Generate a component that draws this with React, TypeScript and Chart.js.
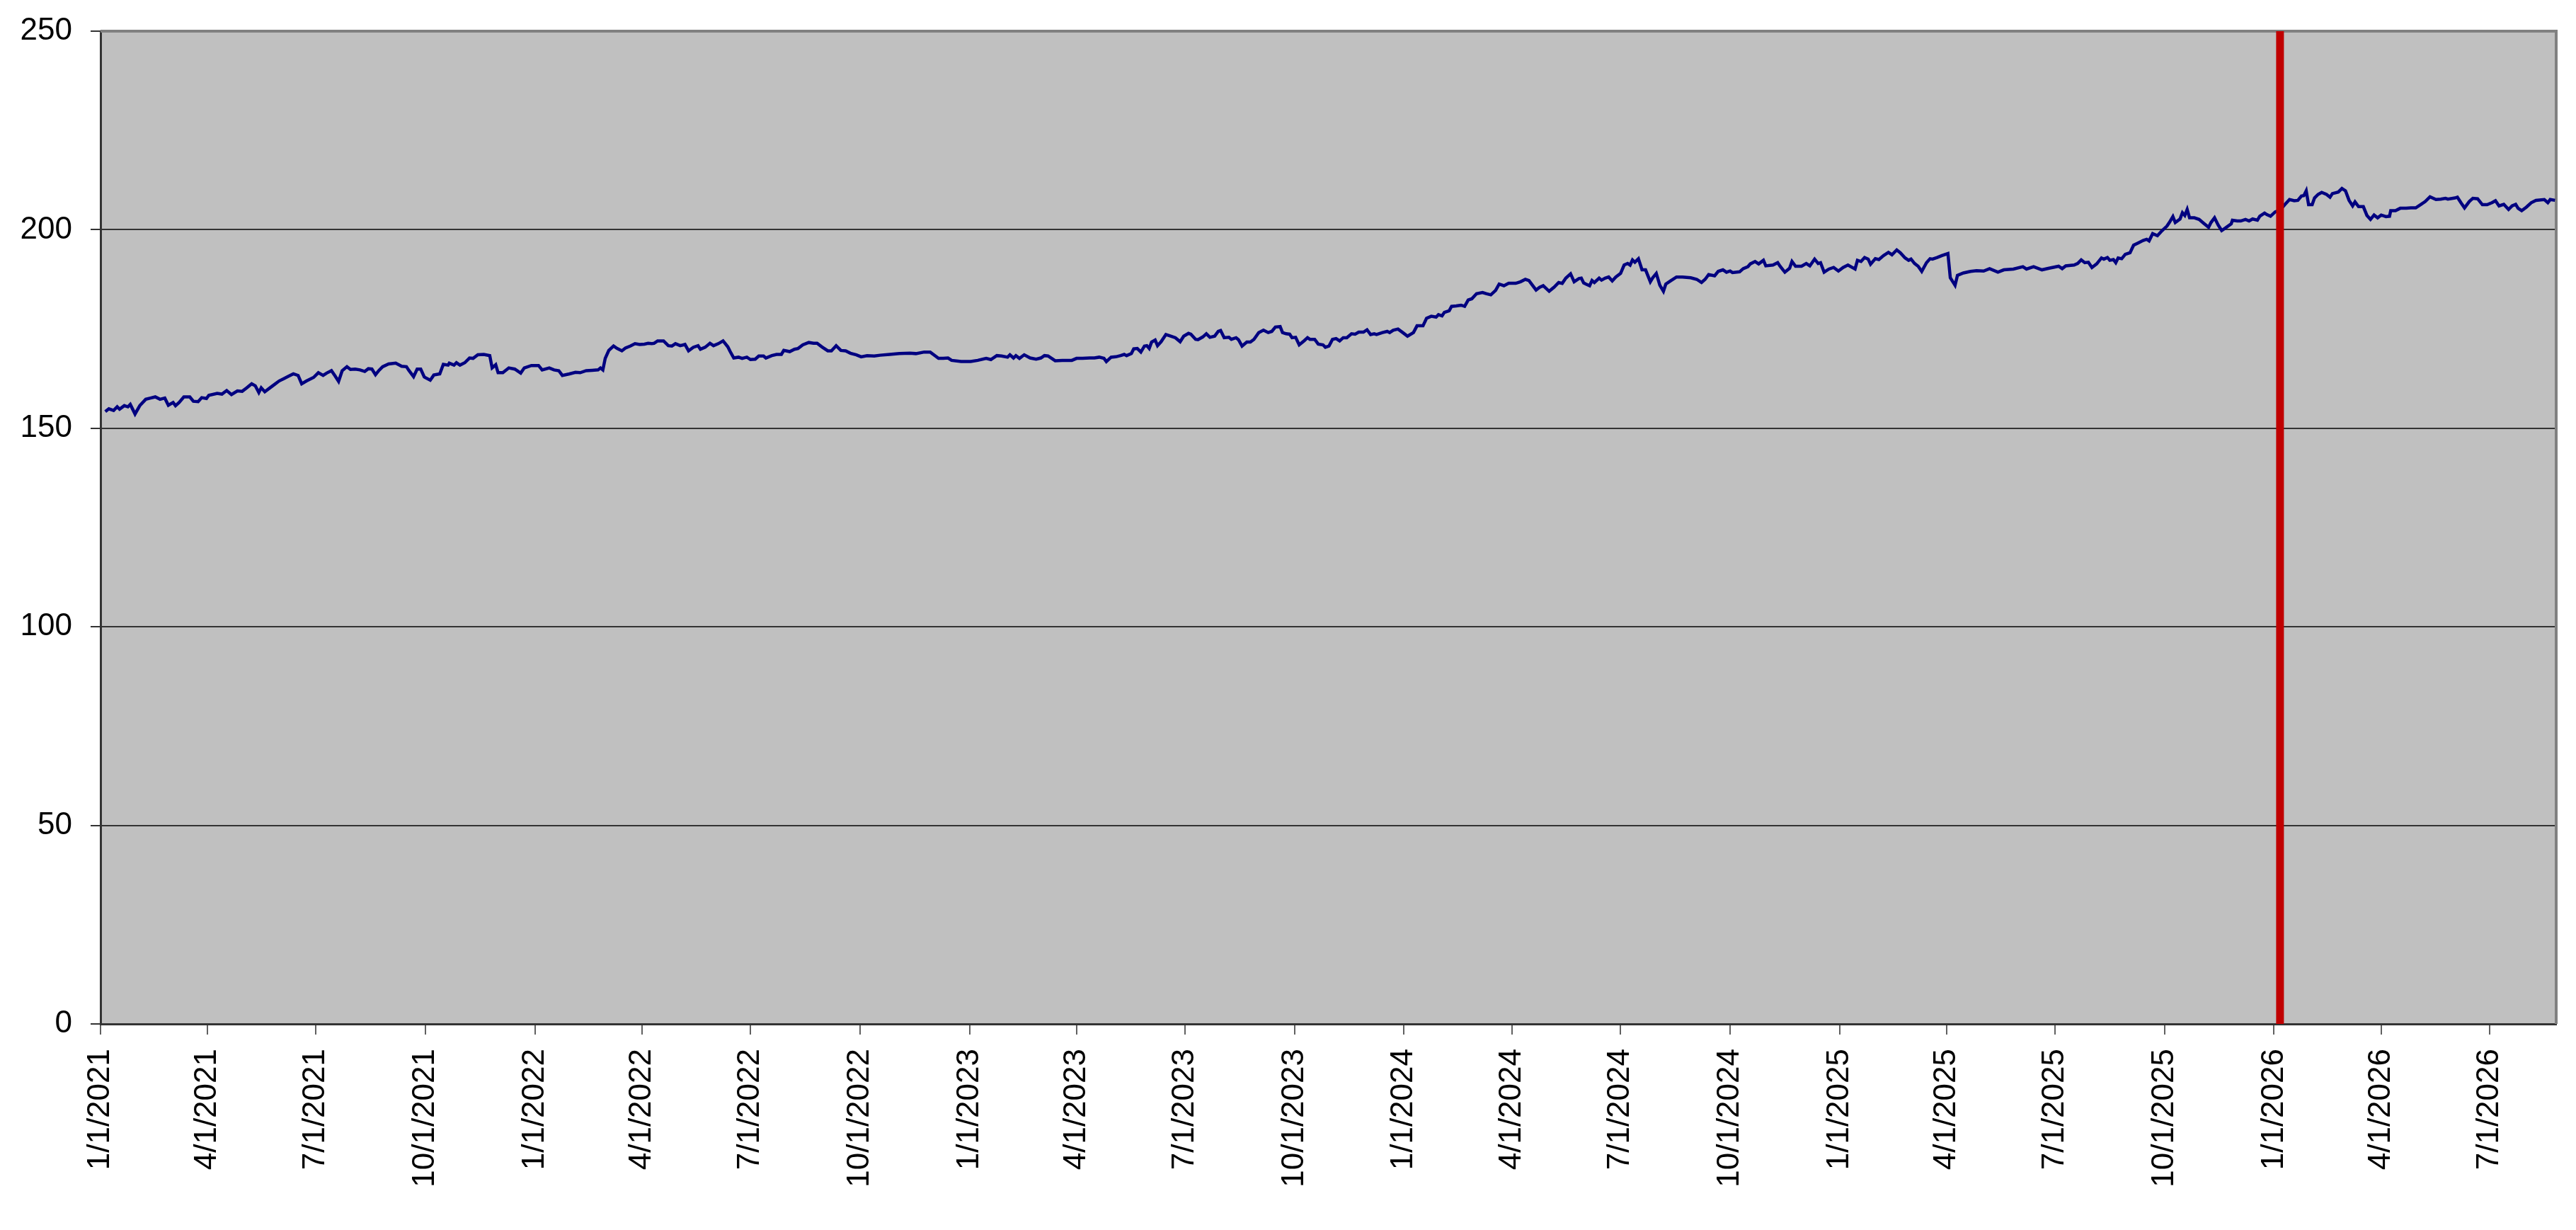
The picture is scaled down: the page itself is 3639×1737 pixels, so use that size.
import { useEffect, useRef } from 'react';
import { Chart, registerables } from 'chart.js';

Chart.register(...registerables);

const START = Date.UTC(2021, 0, 1);
const DAY_MS = 86400000;

// x positions: days elapsed since 1/1/2021 (trading days sampled off the chart)
const DAYS = [
  // 2021
  4, 7, 11, 14, 16, 20, 23, 25, 29, 33,
  38, 42, 46, 50, 54, 57, 61, 63, 66, 70,
  75, 78, 82, 85, 89, 91, 98, 102, 106, 110,
  115, 119, 123, 127, 130, 133, 135, 138, 142, 146,
  150, 154, 158, 162, 166, 169, 173, 179, 183, 187,
  190, 194, 197, 200, 203, 207, 210, 214, 218, 222,
  225, 228, 231, 234, 237, 242, 248, 253, 257, 259,
  263, 266, 269, 272, 277, 280, 285, 288, 292, 293,
  297, 299, 302, 306, 310, 313, 317, 322, 327, 329,
  332, 334, 338, 343, 348, 353, 356, 362, 368, 371,
  377, 381, 385, 388, 394, 399, 403, 408, 413,
  // 2022
  418, 420, 422, 424, 427, 431, 434, 438, 441, 445,
  449, 453, 457, 460, 463, 465, 468, 473, 477, 480,
  483, 487, 491, 494, 498, 502, 504, 508, 512, 515,
  519, 523, 527, 529, 532, 536, 539, 543, 546, 550,
  553, 557, 559, 564, 568, 572, 574, 579, 583, 586,
  590, 595, 599, 602, 606, 611, 614, 618, 622, 626,
  630, 635, 639, 644, 650, 655, 663, 671, 680, 685,
  692, 697, 700, 704, 708, 712, 715, 723, 731, 737,
  744, 748, 753, 757, 762, 764, 767, 769, 772, 776,
  781, 786, 790, 793, 796, 802, 808, 816, 820,
  // 2023 - 2024
  825, 831, 835, 839, 843, 845, 849, 853, 857, 860,
  862, 866, 868, 871, 874, 877, 879, 881, 883, 886,
  888, 891, 895, 899, 903, 907, 910, 914, 916, 920,
  922, 926, 929, 932, 936, 939, 941, 944, 948, 950,
  954, 956, 959, 963, 966, 969, 973, 977, 981, 984,
  987, 991, 993, 996, 999, 1001, 1004, 1007, 1011, 1014,
  1016, 1020, 1023, 1027, 1029, 1032, 1035, 1038, 1041, 1044,
  1047, 1051, 1054, 1057, 1061, 1064, 1067, 1070, 1072, 1077,
  1081, 1083, 1086, 1090, 1094, 1098, 1103, 1106, 1111, 1114,
  1118, 1122, 1124, 1127, 1129, 1133, 1135, 1139, 1143, 1146,
  1149, 1152, 1156, 1161, 1164, 1168, 1172, 1175, 1179, 1183,
  1189, 1193, 1197, 1200, 1203, 1206, 1209, 1212, 1217, 1221,
  1225, 1228, 1231, 1235, 1238,
  // 2024 - 2025
  1242, 1244, 1246, 1248, 1251, 1253, 1255, 1259, 1261, 1264,
  1267, 1270, 1273, 1277, 1280, 1283, 1285, 1287, 1289, 1292,
  1295, 1298, 1302, 1304, 1307, 1310, 1313, 1315, 1319, 1324,
  1329, 1336, 1341, 1345, 1348, 1351, 1356, 1359, 1363, 1366,
  1369, 1371, 1377, 1380, 1384, 1386, 1390, 1393, 1397, 1399,
  1405, 1409, 1411, 1415, 1419, 1421, 1424, 1429, 1433, 1436,
  1440, 1443, 1445, 1448, 1452, 1456, 1460, 1464, 1468, 1474,
  1476, 1479, 1482, 1485, 1487, 1491, 1494, 1498, 1502, 1505,
  1509, 1512, 1516, 1519, 1521, 1524, 1527, 1530, 1534, 1537,
  1539, 1543, 1547, 1552, 1554, 1558, 1560, 1565, 1571, 1576,
  1582, 1587, 1594, 1599, 1607, 1615, 1618, 1624, 1631, 1637,
  1645, 1648, 1651,
  // 2025 - 2026
  1658, 1661, 1664, 1667, 1670, 1673, 1677, 1681, 1683, 1686,
  1688, 1691, 1693, 1695, 1698, 1701, 1705, 1708, 1712, 1716,
  1719, 1721, 1724, 1728, 1732, 1736, 1738, 1741, 1743, 1747,
  1749, 1751, 1753, 1755, 1759, 1763, 1767, 1771, 1773, 1776,
  1779, 1782, 1785, 1790, 1791, 1795, 1798, 1802, 1805, 1808,
  1812, 1814, 1818, 1820, 1823, 1827, 1831, 1835, 1839, 1843,
  1846, 1849, 1851, 1853, 1855, 1858, 1860, 1863, 1866, 1870,
  1873, 1875, 1880, 1883, 1886, 1889, 1892, 1894, 1897, 1901,
  1904, 1907, 1910, 1913, 1916, 1920, 1923, 1924, 1928, 1932,
  1937, 1941, 1945, 1949, 1953, 1957, 1962, 1966, 1970, 1972,
  1978, 1980, 1983, 1986, 1990, 1993, 1997, 2001, 2005, 2009,
  2012, 2015, 2019, 2023, 2026, 2029, 2031, 2034, 2038, 2042,
  2046, 2053, 2056, 2058, 2062,
];

const VALUES = [
  // 2021
  154.2, 154.9, 154.5, 155.4, 154.8, 155.7, 155.4, 156.0, 153.6, 155.7,
  157.3, 157.6, 157.9, 157.3, 157.6, 155.8, 156.5, 155.7, 156.5, 157.9,
  157.9, 156.8, 156.7, 157.7, 157.5, 158.3, 158.8, 158.6, 159.5, 158.5,
  159.4, 159.3, 160.2, 161.2, 160.7, 159.0, 160.2, 159.2, 160.1, 161.0,
  161.9, 162.5, 163.1, 163.7, 163.3, 161.2, 161.9, 162.8, 164.0, 163.3,
  163.9, 164.5, 163.2, 161.8, 164.5, 165.5, 164.8, 164.9, 164.7, 164.3,
  165.0, 164.9, 163.5, 164.6, 165.5, 166.2, 166.4, 165.6, 165.5, 164.6,
  163.0, 164.9, 164.9, 162.9, 162.1, 163.4, 163.7, 166.1, 165.9, 166.4,
  165.9, 166.5, 165.9, 166.5, 167.7, 167.6, 168.5, 168.6, 168.3, 165.2,
  166.0, 164.0, 164.0, 165.2, 164.9, 163.9, 165.2, 165.8, 165.8, 164.7,
  165.2, 164.7, 164.5, 163.3, 163.7, 164.1, 164.0, 164.5, 164.6,
  // 2022
  164.7, 165.2, 164.7, 167.6, 169.6, 170.7, 170.1, 169.5, 170.2, 170.7,
  171.3, 171.1, 171.2, 171.4, 171.3, 171.4, 172.0, 172.0, 170.8, 170.7,
  171.3, 170.8, 171.1, 169.5, 170.4, 170.8, 169.9, 170.4, 171.4, 170.8,
  171.3, 172.0, 170.5, 169.3, 167.7, 167.9, 167.6, 167.9, 167.3, 167.4,
  168.2, 168.2, 167.7, 168.3, 168.6, 168.6, 169.6, 169.3, 169.9, 170.1,
  171.0, 171.6, 171.4, 171.4, 170.5, 169.5, 169.5, 170.8, 169.6, 169.5,
  168.9, 168.5, 168.0, 168.3, 168.2, 168.4, 168.6, 168.8, 168.9, 168.8,
  169.2, 169.2, 168.5, 167.6, 167.6, 167.7, 167.1, 166.8, 166.8, 167.1,
  167.6, 167.3, 168.3, 168.2, 167.9, 168.5, 167.7, 168.3, 167.6, 168.5,
  167.7, 167.4, 167.7, 168.3, 168.2, 167.0, 167.1, 167.1, 167.6,
  // 2023 - 2024
  167.6, 167.7, 167.7, 167.9, 167.6, 166.8, 167.9, 168.0, 168.3, 168.6,
  168.3, 168.8, 170.0, 170.1, 169.2, 170.7, 170.8, 170.1, 171.7, 172.2,
  170.8, 171.8, 173.6, 173.2, 172.8, 171.8, 173.2, 173.9, 173.7, 172.4,
  172.3, 173.0, 173.8, 172.9, 173.2, 174.4, 174.6, 172.8, 172.9, 172.4,
  172.8, 172.3, 170.7, 171.7, 171.7, 172.4, 174.1, 174.7, 174.1, 174.4,
  175.5, 175.6, 174.1, 173.8, 173.7, 172.8, 172.9, 171.0, 172.0, 172.8,
  172.4, 172.4, 171.2, 171.0, 170.4, 170.7, 172.4, 172.6, 172.0, 172.8,
  172.8, 173.8, 173.7, 174.2, 174.2, 174.8, 173.6, 173.8, 173.6, 174.1,
  174.4, 174.1, 174.7, 175.0, 174.1, 173.2, 174.1, 175.8, 175.8, 177.7,
  178.2, 178.0, 178.6, 178.3, 179.2, 179.6, 180.7, 180.8, 181.0, 180.7,
  182.3, 182.6, 183.9, 184.2, 183.9, 183.6, 184.7, 186.3, 185.9, 186.5,
  186.5, 186.9, 187.5, 187.2, 186.0, 184.8, 185.5, 185.9, 184.5, 185.5,
  186.7, 186.5, 187.8, 188.9, 186.9,
  // 2024 - 2025
  187.7, 187.8, 186.6, 186.3, 185.9, 187.2, 186.7, 187.8, 187.3, 187.8,
  188.1, 187.1, 188.1, 189.0, 191.1, 191.5, 191.1, 192.4, 191.8, 192.7,
  189.9, 189.9, 186.9, 187.9, 189.0, 186.0, 184.5, 186.3, 187.1, 188.1,
  188.1, 187.9, 187.5, 186.7, 187.5, 188.7, 188.4, 189.5, 189.9, 189.3,
  189.6, 189.2, 189.4, 190.2, 190.7, 191.4, 192.0, 191.4, 192.3, 190.9,
  191.1, 191.7, 190.8, 189.3, 190.3, 192.0, 190.8, 190.8, 191.5, 190.9,
  192.6, 191.5, 191.7, 189.3, 190.1, 190.5, 189.6, 190.5, 191.1, 190.1,
  192.3, 192.0, 193.0, 192.6, 191.3, 192.7, 192.5, 193.5, 194.3, 193.7,
  194.9, 194.2, 192.9, 192.3, 192.6, 191.5, 190.8, 189.5, 191.7, 192.7,
  192.6, 193.0, 193.5, 194.0, 187.9, 186.0, 188.5, 189.1, 189.5, 189.7,
  189.6, 190.2, 189.3, 189.9, 190.1, 190.7, 190.1, 190.7, 189.9, 190.3,
  190.8, 190.2, 190.9,
  // 2025 - 2026
  191.1, 191.5, 192.4, 191.7, 191.8, 190.5, 191.4, 192.9, 192.6, 193.0,
  192.3, 192.5, 191.7, 192.9, 192.7, 193.8, 194.2, 196.1, 196.7, 197.3,
  197.6, 197.2, 199.0, 198.5, 199.8, 200.9, 201.8, 203.3, 201.8, 202.7,
  204.3, 203.6, 205.1, 203.0, 203.0, 202.6, 201.6, 200.6, 201.8, 203.0,
  201.2, 199.8, 200.4, 201.5, 202.4, 202.2, 202.2, 202.6, 202.2, 202.7,
  202.4, 203.4, 204.2, 203.8, 203.4, 204.5, 204.9, 206.3, 207.6, 207.3,
  207.4, 208.5, 208.6, 209.8, 206.3, 206.3, 208.0, 208.9, 209.4, 208.9,
  208.2, 209.1, 209.5, 210.4, 209.8, 207.4, 206.0, 207.0, 205.8, 205.8,
  203.6, 202.6, 203.7, 203.0, 203.7, 203.3, 203.4, 204.8, 204.8, 205.4,
  205.4, 205.5, 205.5, 206.3, 207.1, 208.3, 207.6, 207.7, 207.9, 207.7,
  208.0, 208.2, 206.8, 205.5, 207.1, 207.9, 207.8, 206.3, 206.3, 206.8,
  207.3, 206.0, 206.4, 205.1, 206.0, 206.4, 205.4, 204.8, 205.7, 206.8,
  207.4, 207.6, 206.8, 207.6, 207.4,
];

const X_TICK_LABELS = [
  '1/1/2021', '4/1/2021', '7/1/2021', '10/1/2021',
  '1/1/2022', '4/1/2022', '7/1/2022', '10/1/2022',
  '1/1/2023', '4/1/2023', '7/1/2023', '10/1/2023',
  '1/1/2024', '4/1/2024', '7/1/2024', '10/1/2024',
  '1/1/2025', '4/1/2025', '7/1/2025', '10/1/2025',
  '1/1/2026', '4/1/2026', '7/1/2026',
];

const X_END = '8/26/2026';
const MARKER_DATE = '1/6/2026';
const Y_MIN = 0;
const Y_MAX = 250;
const Y_STEP = 50;

const FONT = { family: '"Liberation Sans", Arial, Helvetica, sans-serif', size: 44 };

function dayOf(label: string) {
  const [m, d, y] = label.split('/').map(Number);
  return (Date.UTC(y, m - 1, d) - START) / DAY_MS;
}

// grey plot area with the lighter top/right frame of the old spreadsheet look
const plotFrame = {
  id: 'plotFrame',
  beforeDraw(chart: any) {
    const { ctx, chartArea: a, width, height } = chart;
    ctx.save();
    ctx.fillStyle = '#ffffff';
    ctx.fillRect(0, 0, width, height);
    ctx.fillStyle = '#c0c0c0';
    ctx.fillRect(a.left, a.top, a.right - a.left, a.bottom - a.top);
    ctx.restore();
  },
  beforeDatasetsDraw(chart: any) {
    const { ctx, chartArea: a } = chart;
    ctx.save();
    ctx.strokeStyle = '#808080';
    ctx.lineWidth = 4;
    ctx.beginPath();
    ctx.moveTo(a.left, a.top);
    ctx.lineTo(a.right, a.top);
    ctx.lineTo(a.right, a.bottom);
    ctx.stroke();
    ctx.restore();
  },
};

export default function App() {
  const canvasRef = useRef<HTMLCanvasElement>(null);
  const chartRef = useRef<Chart | null>(null);

  useEffect(() => {
    if (!canvasRef.current) return;
    document.body.style.margin = '0';

    if (chartRef.current) {
      chartRef.current.destroy();
    }

    const marker = dayOf(MARKER_DATE);

    chartRef.current = new Chart(canvasRef.current, {
      type: 'line',
      data: {
        datasets: [
          {
            data: [{ x: marker, y: Y_MIN }, { x: marker, y: Y_MAX }],
            borderColor: '#c00000',
            borderWidth: 11,
            pointRadius: 0,
          },
          {
            data: DAYS.map((d, i) => ({ x: d, y: VALUES[i] })),
            borderColor: '#000080',
            borderWidth: 4.5,
            pointRadius: 0,
            tension: 0,
          },
        ],
      },
      plugins: [plotFrame],
      options: {
        animation: false,
        responsive: true,
        maintainAspectRatio: false,
        devicePixelRatio: 1,
        layout: { padding: { top: 44, right: 28, left: 0, bottom: 0 } },
        plugins: {
          legend: { display: false },
          tooltip: { enabled: false },
        },
        scales: {
          x: {
            type: 'linear',
            min: 0,
            max: dayOf(X_END),
            afterBuildTicks: (scale: any) => {
              scale.ticks = X_TICK_LABELS.map((l) => ({ value: dayOf(l) }));
            },
            afterFit: (scale: any) => {
              scale.height = 291;
            },
            grid: {
              drawOnChartArea: false,
              drawTicks: true,
              tickLength: 15,
              tickColor: '#606060',
              lineWidth: 2,
            },
            border: { color: '#333333', width: 3 },
            ticks: {
              autoSkip: false,
              minRotation: 90,
              maxRotation: 90,
              padding: 20,
              color: '#000000',
              font: FONT,
              callback: (_v: any, i: number) => X_TICK_LABELS[i],
            },
          },
          y: {
            min: Y_MIN,
            max: Y_MAX,
            afterFit: (scale: any) => {
              scale.width = 142;
              scale.paddingTop = 0;
              scale.paddingBottom = 0;
            },
            grid: {
              color: '#333333',
              lineWidth: 2,
              tickLength: 14,
            },
            border: { color: '#333333', width: 3 },
            ticks: {
              stepSize: Y_STEP,
              padding: 26,
              color: '#000000',
              font: FONT,
            },
          },
        },
      },
    });

    return () => {
      if (chartRef.current) {
        chartRef.current.destroy();
        chartRef.current = null;
      }
    };
  }, []);

  return (
    <div style={{ width: 3639, height: 1737, position: 'relative' }}>
      <canvas ref={canvasRef} />
    </div>
  );
}
